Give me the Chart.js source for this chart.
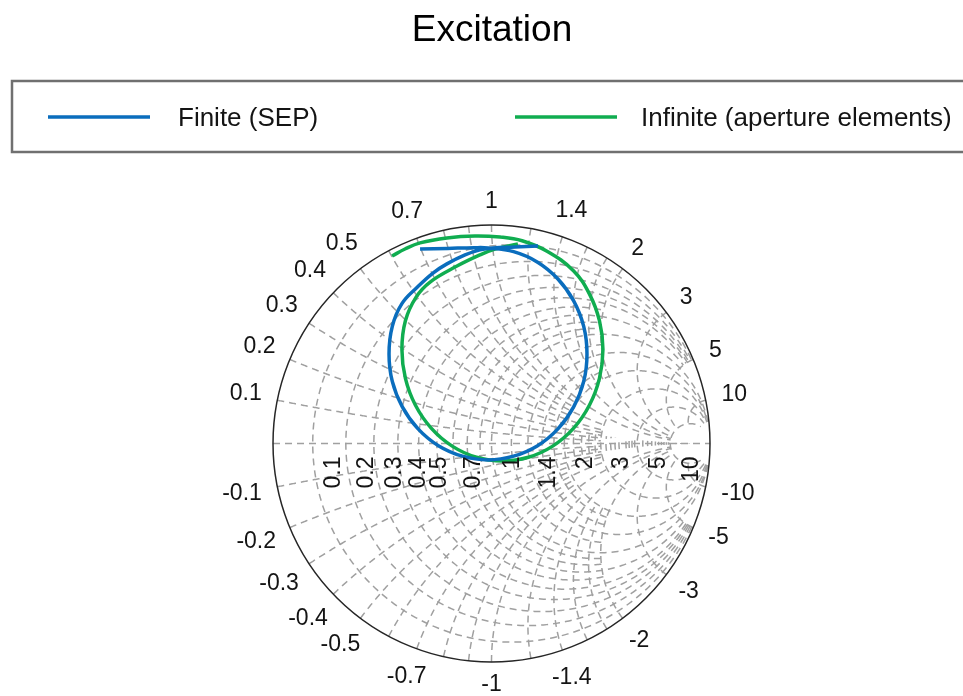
<!DOCTYPE html>
<html>
<head>
<meta charset="utf-8">
<title>Excitation</title>
<script src="https://cdn.jsdelivr.net/npm/chart.js@4/dist/chart.umd.min.js"></script>
<style>
    body { margin: 0; background: #ffffff; }
    canvas { display: block; }
</style>
</head>
<body>
<canvas id="smith" width="963" height="696"></canvas>
<script>
const finiteRe = [-0.327, -0.200, -0.080, -0.016, 0.101, 0.211, 0.304, 0.376, 0.422, 0.437, 0.422, 0.376,
    0.304, 0.211, 0.101, -0.016, -0.133, -0.243, -0.336, -0.408, -0.454, -0.469, -0.454, -0.410,
    -0.340, -0.268, -0.204, -0.121, -0.053, 0.007, 0.108, 0.213];
const finiteIm = [0.890, 0.893, 0.896, 0.895, 0.878, 0.830, 0.753, 0.653, 0.536, 0.410, 0.284, 0.168,
    0.067, -0.010, -0.058, -0.075, -0.058, -0.010, 0.067, 0.168, 0.284, 0.410, 0.536, 0.640,
    0.715, 0.780, 0.822, 0.863, 0.886, 0.895, 0.899, 0.904];

const infiniteRe = [-0.455, -0.396, -0.327, -0.204, -0.076, 0.039, 0.140, 0.254, 0.375, 0.448, 0.494, 0.510,
    0.494, 0.448, 0.375, 0.280, 0.169, 0.050, -0.069, -0.180, -0.275, -0.348, -0.394, -0.410,
    -0.394, -0.345, -0.281, -0.158, -0.053, 0.016, 0.121];
const infiniteIm = [0.858, 0.890, 0.918, 0.941, 0.950, 0.945, 0.928, 0.880, 0.791, 0.685, 0.562, 0.430,
    0.298, 0.175, 0.069, -0.012, -0.063, -0.080, -0.063, -0.012, 0.069, 0.175, 0.298, 0.430,
    0.562, 0.670, 0.739, 0.812, 0.863, 0.890, 0.913];

const seriesNames = ['Finite (SEP)', 'Infinite (aperture elements)'];
const seriesColors = ['#0a6dbd', '#10ad50'];

// Smith chart grid and labels
const gridLabels = [0.1, 0.2, 0.3, 0.4, 0.5, 0.7, 1, 1.4, 2, 3, 5, 10];
const minorGrid = [0.6, 0.8, 0.9, 1.2, 1.6, 1.8];
const fineResistance = [2.2, 2.4, 2.6, 2.8, 3.2, 3.4, 3.6, 3.8, 4.2, 4.4, 4.6, 4.8, 5.5, 6, 6.5, 7, 7.5, 8, 8.5, 9, 9.5, 12, 14, 16, 18, 20];

const FONT = '"Liberation Sans", Arial, sans-serif';

// z = r + jx  ->  gamma = (z - 1) / (z + 1)
function gamma(r, x) {
    const d = (r + 1) * (r + 1) + x * x;
    return [(r * r + x * x - 1) / d, 2 * x / d];
}

function pathPoints(ctx, chart, pts) {
    const sx = chart.scales.x, sy = chart.scales.y;
    ctx.beginPath();
    pts.forEach((p, i) => {
        const px = sx.getPixelForValue(p[0]), py = sy.getPixelForValue(p[1]);
        if (i === 0) ctx.moveTo(px, py); else ctx.lineTo(px, py);
    });
    ctx.stroke();
}

function resistanceCircle(ctx, chart, r, xMax) {
    const uMax = Math.atan(xMax / (r + 1));
    const pts = [];
    for (let i = 0; i <= 300; i++) {
        const u = -uMax + 2 * uMax * i / 300;
        pts.push(gamma(r, (r + 1) * Math.tan(u)));
    }
    pathPoints(ctx, chart, pts);
}

function reactanceArc(ctx, chart, x, rMax) {
    const vMax = rMax / (1 + rMax);
    const pts = [];
    for (let i = 0; i <= 300; i++) {
        const v = vMax * i / 300;
        pts.push(gamma(v / (1 - v), x));
    }
    pathPoints(ctx, chart, pts);
}

const smithGrid = {
    id: 'smithGrid',
    beforeDatasetsDraw(chart) {
        const ctx = chart.ctx;
        const sx = chart.scales.x, sy = chart.scales.y;
        const cx = sx.getPixelForValue(0), cy = sy.getPixelForValue(0);
        const R = sx.getPixelForValue(1) - cx;

        ctx.save();
        ctx.beginPath();
        ctx.arc(cx, cy, R, 0, Math.PI * 2);
        ctx.clip();
        ctx.strokeStyle = '#a0a0a0';
        ctx.lineWidth = 1.5;
        ctx.setLineDash([7, 5]);

        gridLabels.forEach(r => resistanceCircle(ctx, chart, r, r < 1 ? 5 : 20));
        minorGrid.forEach(r => resistanceCircle(ctx, chart, r, 2));
        gridLabels.forEach(x => {
            const lim = x < 1 ? 3 : 10;
            reactanceArc(ctx, chart, x, lim);
            reactanceArc(ctx, chart, -x, lim);
        });
        minorGrid.forEach(x => {
            reactanceArc(ctx, chart, x, 2);
            reactanceArc(ctx, chart, -x, 2);
        });
        fineResistance.forEach(r => resistanceCircle(ctx, chart, r, 0.3));

        // real axis
        ctx.beginPath();
        ctx.moveTo(cx - R, cy);
        ctx.lineTo(cx + R, cy);
        ctx.stroke();
        ctx.restore();

        // outer circle
        ctx.save();
        ctx.strokeStyle = '#262626';
        ctx.lineWidth = 1.5;
        ctx.beginPath();
        ctx.arc(cx, cy, R, 0, Math.PI * 2);
        ctx.stroke();
        ctx.restore();
    },
    afterDraw(chart) {
        const ctx = chart.ctx;
        const sx = chart.scales.x, sy = chart.scales.y;
        const cx = sx.getPixelForValue(0), cy = sy.getPixelForValue(0);
        const R = sx.getPixelForValue(1) - cx;

        ctx.save();
        ctx.fillStyle = '#141414';
        ctx.font = '23px ' + FONT;
        ctx.textAlign = 'center';
        ctx.textBaseline = 'middle';

        // reactance labels around the rim
        gridLabels.forEach(v => {
            [v, -v].forEach(x => {
                const g = gamma(0, x);
                const ang = Math.atan2(g[1], g[0]);
                const text = String(x);
                const w = ctx.measureText(text).width;
                const c = Math.cos(ang), s = Math.sin(ang);
                const d = R + 15 + Math.abs(c) * w / 2 + Math.abs(s) * 8;
                ctx.fillText(text, cx + d * c, cy - d * s);
            });
        });

        // resistance labels along the real axis, rotated
        ctx.textAlign = 'right';
        gridLabels.forEach(r => {
            const g = gamma(r, 0);
            const px = sx.getPixelForValue(g[0]) + 21;
            ctx.save();
            ctx.translate(px, cy + 13);
            ctx.rotate(-Math.PI / 2);
            ctx.fillText(String(r), 0, 0);
            ctx.restore();
        });
        ctx.restore();

        // title
        ctx.save();
        ctx.fillStyle = '#000000';
        ctx.font = '37px ' + FONT;
        ctx.textAlign = 'center';
        ctx.textBaseline = 'alphabetic';
        ctx.fillText('Excitation', 492, 41);

        // legend box
        ctx.strokeStyle = '#707070';
        ctx.lineWidth = 2.5;
        ctx.strokeRect(12, 81, 1000, 71);
        const items = [
            { lineX: 48, textX: 178 },
            { lineX: 515, textX: 641 }
        ];
        ctx.font = '26px ' + FONT;
        ctx.textAlign = 'left';
        items.forEach((it, i) => {
            ctx.strokeStyle = seriesColors[i];
            ctx.lineWidth = 3.5;
            ctx.beginPath();
            ctx.moveTo(it.lineX, 117);
            ctx.lineTo(it.lineX + 102, 117);
            ctx.stroke();
            ctx.fillStyle = '#141414';
            ctx.fillText(seriesNames[i], it.textX, 126);
        });
        ctx.restore();
    }
};

function toPoints(re, im) {
    return re.map((v, i) => ({ x: v, y: im[i] }));
}

new Chart(document.getElementById('smith'), {
    type: 'line',
    data: {
        datasets: [
            {
                label: seriesNames[0],
                data: toPoints(finiteRe, finiteIm),
                borderColor: seriesColors[0],
                borderWidth: 3.5,
                pointRadius: 0,
                fill: false,
                tension: 0.4
            },
            {
                label: seriesNames[1],
                data: toPoints(infiniteRe, infiniteIm),
                borderColor: seriesColors[1],
                borderWidth: 3.5,
                pointRadius: 0,
                fill: false,
                tension: 0.4
            }
        ]
    },
    options: {
        responsive: false,
        animation: false,
        layout: { padding: { left: 273, right: 253, top: 225, bottom: 34 } },
        scales: {
            x: { type: 'linear', min: -1, max: 1, display: false },
            y: { type: 'linear', min: -1, max: 1, display: false }
        },
        plugins: {
            legend: { display: false },
            title: { display: false },
            tooltip: { enabled: false }
        }
    },
    plugins: [smithGrid]
});
</script>
</body>
</html>
